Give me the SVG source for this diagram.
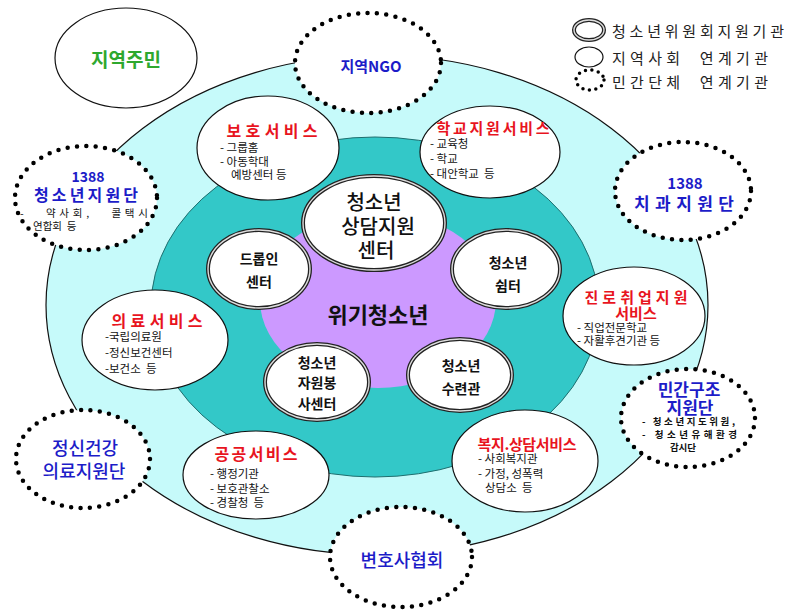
<svg xmlns="http://www.w3.org/2000/svg" width="788" height="615" viewBox="0 0 788 615">
<style>
text{font-family:"Noto Sans CJK KR","Noto Sans",sans-serif;white-space:pre}
.c{text-anchor:middle}
.m{dominant-baseline:central}
.s{font-size:11.5px;fill:#111}
.red{fill:#E8141E;font-weight:700}
.blue{fill:#1C1CC8;font-weight:700}
.inn{font-size:14px;font-weight:700;fill:#111}
.dot{fill:#fff;stroke:#000;stroke-width:4.5;stroke-dasharray:0 9.4;stroke-linecap:round}
.sol{fill:#fff;stroke:#111;stroke-width:1.2}
.dbl{fill:#fff;stroke:#222;stroke-width:4}
.dbl2{fill:none;stroke:#ddd;stroke-width:1.4}
.leg{font-size:15px;fill:#222}
</style>
<g id="rings">
<ellipse cx="377" cy="305" rx="331" ry="250" fill="#C6FAFA" stroke="#111" stroke-width="1.2"/>
<ellipse cx="375" cy="307" rx="224" ry="170" fill="#33C8C8" stroke="#1E6E6E" stroke-width="1"/>
<ellipse cx="378" cy="300" rx="118" ry="88" fill="#CC99FF"/>
</g>
<g id="connectors"></g>
<g id="legend">
<ellipse cx="589" cy="30" rx="15" ry="10" class="dbl"/><ellipse cx="589" cy="30" rx="15" ry="10" class="dbl2"/>
<text x="612" y="30" class="leg m" textLength="172">청소년위원회지원기관</text>
<ellipse cx="589" cy="57" rx="14" ry="10" class="sol"/>
<text x="612" y="57" class="leg m" textLength="156">지역사회  연계기관</text>
<ellipse cx="590" cy="80" rx="14" ry="10" fill="#fff" stroke="#000" stroke-width="3.5" stroke-dasharray="0 6.5" stroke-linecap="round"/>
<text x="612" y="81" class="leg m" textLength="156">민간단체  연계기관</text>
</g>
<g id="residents">
<ellipse cx="126" cy="58" rx="71" ry="50" class="sol"/>
<text x="126" y="58" class="c m" font-size="19" font-weight="700" fill="#2EA82E">지역주민</text>
</g>
<g id="ngo">
<ellipse cx="368" cy="63" rx="73" ry="50" class="dot"/>
<text x="371" y="65" class="c m blue" font-size="15">지역NGO</text>
</g>
<g id="youth1388">
<ellipse cx="86" cy="198" rx="71" ry="52" class="dot"/>
<text x="88" y="176" class="c m blue" font-size="14">1388</text>
<text x="86" y="194" class="c m blue" font-size="16" textLength="104">청소년지원단</text>
<text x="20" y="212" class="m" font-size="10.5" fill="#111" textLength="128">-   약사회,   콜택시</text>
<text x="33" y="225" class="m" font-size="10.5" fill="#111">연합회  등</text>
</g>
<g id="dental1388">
<ellipse cx="683" cy="191" rx="68" ry="49" class="dot"/>
<text x="685" y="182" class="c m blue" font-size="15">1388</text>
<text x="684" y="202" class="c m blue" font-size="17" textLength="100">치과지원단</text>
</g>
<g id="rescue">
<ellipse cx="688" cy="418" rx="67" ry="49" class="dot"/>
<text x="689" y="388" class="c m blue" font-size="17">민간구조</text>
<text x="690" y="406" class="c m blue" font-size="17">지원단</text>
<text x="642" y="421" class="m" font-size="9.5" font-weight="700" fill="#111" textLength="93">- 청소년지도위원,</text>
<text x="642" y="434" class="m" font-size="9.5" font-weight="700" fill="#111" textLength="95">- 청소년유해환경</text>
<text x="683" y="447" class="c m" font-size="9.5" font-weight="700" fill="#111">감시단</text>
</g>
<g id="mental">
<ellipse cx="83" cy="459" rx="67" ry="49" class="dot"/>
<text x="85" y="447" class="c m" font-size="18" font-weight="500" fill="#1C1CC8">정신건강</text>
<text x="84" y="470" class="c m" font-size="18" font-weight="500" fill="#1C1CC8">의료지원단</text>
</g>
<g id="lawyers">
<ellipse cx="401" cy="557" rx="71" ry="50" class="dot"/>
<text x="402" y="559" class="c m" font-size="18" font-weight="500" fill="#1C1CC8">변호사협회</text>
</g>
<g id="protect">
<ellipse cx="268" cy="148" rx="71" ry="52" class="sol"/>
<text x="272" y="130" class="c m red" font-size="16" textLength="91">보호서비스</text>
<text x="220" y="147" class="s m">- 그룹홈</text>
<text x="220" y="161" class="s m">- 아동학대</text>
<text x="231" y="174" class="s m">예방센터 등</text>
</g>
<g id="school">
<ellipse cx="490" cy="152" rx="70" ry="46" class="sol"/>
<text x="493" y="127" class="c m red" font-size="15" textLength="113">학교지원서비스</text>
<text x="430" y="143" class="s m" font-size="13">- 교육청</text>
<text x="430" y="158" class="s m" font-size="13">- 학교</text>
<text x="430" y="173" class="s m" font-size="13">- 대안학교  등</text>
</g>
<g id="career">
<ellipse cx="634" cy="316" rx="71" ry="49" class="sol"/>
<text x="636" y="296" class="c m red" font-size="15" textLength="103">진로취업지원</text>
<text x="636" y="312" class="c m red" font-size="15">서비스</text>
<text x="577" y="327" class="s m" font-size="11">- 직업전문학교</text>
<text x="577" y="340" class="s m" font-size="11">- 자활후견기관 등</text>
</g>
<g id="medical">
<ellipse cx="155" cy="340" rx="73" ry="50" class="sol"/>
<text x="157" y="320" class="c m red" font-size="16" textLength="91">의료서비스</text>
<text x="105" y="336" class="s m" font-size="13">-국립의료원</text>
<text x="105" y="352" class="s m" font-size="13">-정신보건센터</text>
<text x="105" y="368" class="s m" font-size="13">-보건소  등</text>
</g>
<g id="public">
<ellipse cx="256" cy="475" rx="73" ry="44" class="sol"/>
<text x="256" y="453" class="c m red" font-size="16" textLength="83">공공서비스</text>
<text x="210" y="473" class="s m" font-size="12">- 행정기관</text>
<text x="210" y="488" class="s m" font-size="12">- 보호관찰소</text>
<text x="210" y="502" class="s m" font-size="12">- 경찰청  등</text>
</g>
<g id="welfare">
<ellipse cx="525" cy="461" rx="73" ry="51" class="sol"/>
<text x="527" y="443" class="c m red" font-size="15" textLength="99">복지.상담서비스</text>
<text x="478" y="458" class="s m" font-size="12">- 사회복지관</text>
<text x="478" y="473" class="s m" font-size="12">- 가정, 성폭력</text>
<text x="485" y="487" class="s m" font-size="12">상담소  등</text>
</g>
<g id="crisis">
<text x="378" y="313" class="c m" font-size="22" font-weight="700" fill="#111">위기청소년</text>
</g>
<g id="counsel">
<ellipse cx="374" cy="223" rx="71" ry="47" class="dbl"/><ellipse cx="374" cy="223" rx="71" ry="47" class="dbl2"/>
<text x="374" y="201" class="c m" font-size="20" font-weight="500" fill="#111">청소년</text>
<text x="378" y="225" class="c m" font-size="20" font-weight="500" fill="#111">상담지원</text>
<text x="376" y="249" class="c m" font-size="20" font-weight="500" fill="#111">센터</text>
</g>
<g id="dropin">
<ellipse cx="259" cy="269" rx="51" ry="39" class="dbl"/><ellipse cx="259" cy="269" rx="51" ry="39" class="dbl2"/>
<text x="259" y="258" class="c m inn">드롭인</text>
<text x="259" y="281" class="c m inn">센터</text>
</g>
<g id="shelter">
<ellipse cx="506" cy="269" rx="54" ry="39" class="dbl"/><ellipse cx="506" cy="269" rx="54" ry="39" class="dbl2"/>
<text x="508" y="262" class="c m inn">청소년</text>
<text x="508" y="285" class="c m inn">쉼터</text>
</g>
<g id="volunteer">
<ellipse cx="317" cy="382" rx="52" ry="38" class="dbl"/><ellipse cx="317" cy="382" rx="52" ry="38" class="dbl2"/>
<text x="317" y="362" class="c m inn">청소년</text>
<text x="317" y="382" class="c m inn">자원봉</text>
<text x="317" y="403" class="c m inn">사센터</text>
</g>
<g id="training">
<ellipse cx="460" cy="375" rx="52" ry="36" class="dbl"/><ellipse cx="460" cy="375" rx="52" ry="36" class="dbl2"/>
<text x="461" y="365" class="c m inn">청소년</text>
<text x="461" y="388" class="c m inn">수련관</text>
</g>
</svg>
